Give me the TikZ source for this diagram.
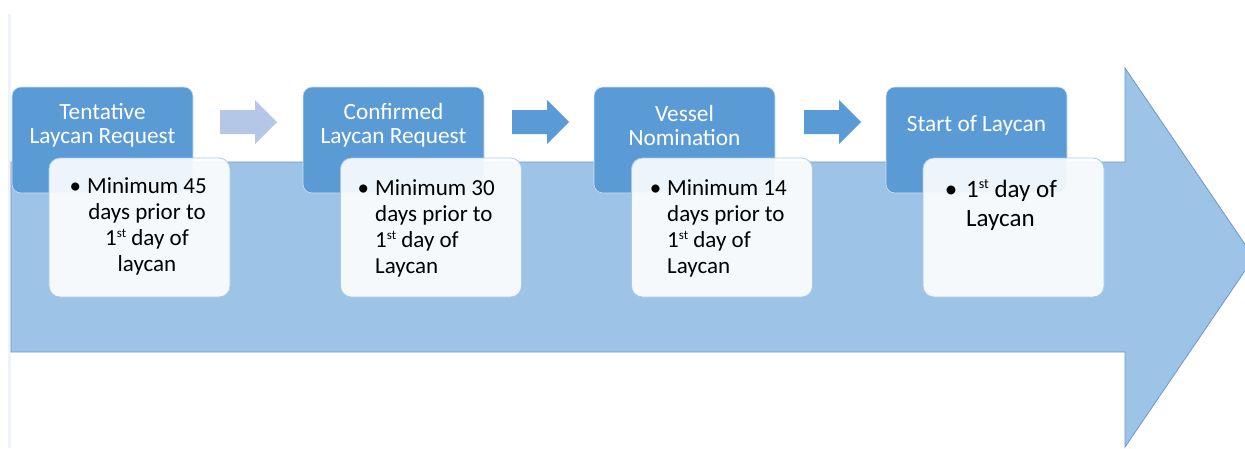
\documentclass[tikz,border=0pt]{standalone}
\usepackage{fontspec}
\setmainfont{Carlito}
\definecolor{hdrblue}{HTML}{5B9BD5}
\definecolor{arrowfill}{HTML}{9DC3E6}
\definecolor{arrowline}{HTML}{6E96C8}
\definecolor{lightarrow}{HTML}{B4C7E7}
\definecolor{boxline}{HTML}{A9C9E9}
\definecolor{faint}{HTML}{EEF2FA}
\newcommand{\ordst}[1]{\raisebox{0.33em}{\fontsize{#1}{#1}\selectfont st}}
\begin{document}
\begin{tikzpicture}[x=1pt,y=-1pt,
  hdr/.style={draw=white!70!hdrblue, line width=0.6pt, fill=hdrblue, rounded corners=9pt, minimum width=181pt, minimum height=106pt, inner sep=0pt},
  hdrtxt/.style={text=white, align=center, font=\fontsize{23.3}{24.5}\selectfont, inner sep=0pt},
  inbox/.style={draw=boxline, line width=0.8pt, fill=white, fill opacity=0.9, rounded corners=11pt, minimum width=181pt, minimum height=139pt, inner sep=0pt},
  bodytxt/.style={text=black, font=\fontsize{23}{26}\selectfont, inner sep=0pt},
  bigtxt/.style={text=black, font=\fontsize{25}{29}\selectfont, inner sep=0pt},
  bigarrow/.style={fill=arrowfill, draw=arrowline, line width=0.8pt},
  smallarrow/.style={fill=#1, draw=none}
]
\useasboundingbox (0,0) rectangle (1245,448);
\clip (0,0) rectangle (1245,448);
% faint vertical rule
\draw[faint, line width=3pt] (9,14) -- (9,448);
% big arrow
\draw[bigarrow] (11,162) -- (1125,162) -- (1125,68) -- (1254,257.5) -- (1125,447) -- (1125,352) -- (11,352) -- cycle;
% headers
\node[hdr] (h1) at (102.5,140) {};
\node[hdr] (h2) at (393.5,140) {};
\node[hdr] (h3) at (684.5,140) {};
\node[hdr] (h4) at (976.5,140) {};
\node[hdrtxt] (t1) at (102.5,125.5) {Tentative\\Laycan Request};
\node[hdrtxt] (t2) at (393.5,125.5) {Confirmed\\Laycan Request};
\node[hdrtxt] (t3) at (684.5,125.5) {Vessel\\Nomination};
\node[hdrtxt] (t4) at (976.5,125.5) {Start of Laycan};
% small arrows
\foreach \L/\c [count=\i] in {220/lightarrow,512/hdrblue,804/hdrblue}{
  \fill[smallarrow=\c] (\L,110) -- (\L+35,110) -- (\L+35,100) -- (\L+57,122) -- (\L+35,144) -- (\L+35,134) -- (\L,134) -- cycle;
}
% inner boxes
\node[inbox] (b1) at (139.5,227.5) {};
\node[inbox] (b2) at (431,227.5) {};
\node[inbox] (b3) at (722,227.5) {};
\node[inbox] (b4) at (1013.5,227.5) {};
% body texts
\node[bodytxt, anchor=base] (d1) at (147,193) {\begin{tabular}[t]{@{}c@{}}\llap{\textbullet\hspace{6pt}}Minimum 45\\days prior to\\1\ordst{13} day of\\laycan\end{tabular}};
\node[bodytxt, anchor=base west] (d2) at (375,195) {\begin{tabular}[t]{@{}l@{}}\llap{\textbullet\hspace{6pt}}Minimum 30\\days prior to\\1\ordst{13} day of\\Laycan\end{tabular}};
\node[bodytxt, anchor=base west] (d3) at (667,195) {\begin{tabular}[t]{@{}l@{}}\llap{\textbullet\hspace{6pt}}Minimum 14\\days prior to\\1\ordst{13} day of\\Laycan\end{tabular}};
\node[bigtxt, anchor=base west] (d4) at (966,197) {\begin{tabular}[t]{@{}l@{}}\llap{\textbullet\hspace{9pt}}1\ordst{14} day of\\Laycan\end{tabular}};
\end{tikzpicture}
\end{document}
